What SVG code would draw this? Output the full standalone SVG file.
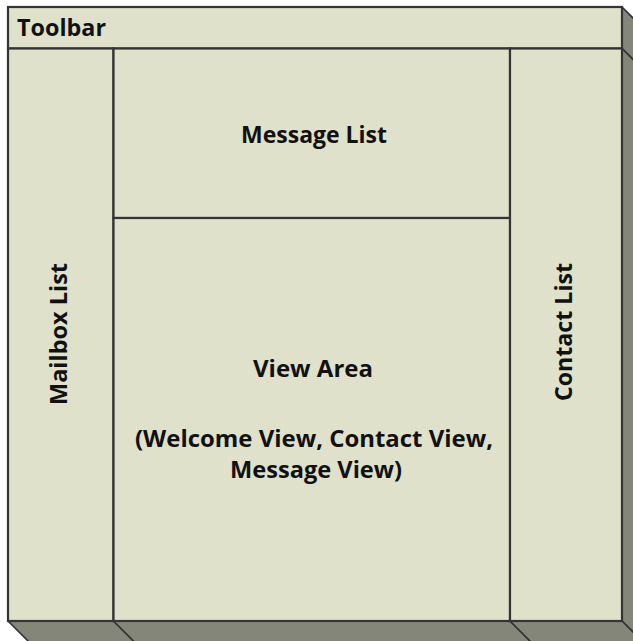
<svg xmlns="http://www.w3.org/2000/svg" width="633" height="641" viewBox="0 0 633 641">
  <style>
    .face { fill: #DFE1CB; stroke: #343434; stroke-width: 2.2; }
    .depth { fill: #84867A; stroke: #343434; stroke-width: 1.6; stroke-linejoin: round; }
    .lbl { font-family: "Open Sans", "Noto Sans", sans-serif; font-weight: bold; font-size: 24px; fill: #111; }
    .mid { text-anchor: middle; }
  </style>
  <rect x="0" y="0" width="633" height="641" fill="#FFFFFF"/>
  <g id="toolbar">
    <polygon class="depth" points="622,7 645,30 645,71.5 622,48.5"/>
    <rect class="face" x="8" y="7" width="614" height="41.5"/>
    <text class="lbl" x="17" y="36" textLength="89" lengthAdjust="spacingAndGlyphs">Toolbar</text>
  </g>
  <g id="mailbox-list">
    <polygon class="depth" points="8,621 113.5,621 136.5,644 31,644"/>
    <rect class="face" x="8" y="48.5" width="105.5" height="572.5"/>
    <text class="lbl mid" transform="translate(67,334) rotate(-90)" x="0" y="0" textLength="142" lengthAdjust="spacingAndGlyphs">Mailbox List</text>
  </g>
  <g id="message-list">
    <rect class="face" x="113.5" y="48.5" width="396.5" height="169.5"/>
    <text class="lbl mid" x="314" y="143" textLength="146" lengthAdjust="spacingAndGlyphs">Message List</text>
  </g>
  <g id="view-area">
    <polygon class="depth" points="113.5,621 510,621 533,644 136.5,644"/>
    <rect class="face" x="113.5" y="218" width="396.5" height="403"/>
    <text class="lbl mid" x="313" y="377" textLength="120" lengthAdjust="spacingAndGlyphs">View Area</text>
    <text class="lbl mid" x="314" y="447" textLength="358" lengthAdjust="spacingAndGlyphs">(Welcome View, Contact View,</text>
    <text class="lbl mid" x="316" y="478" textLength="172" lengthAdjust="spacingAndGlyphs">Message View)</text>
  </g>
  <g id="contact-list">
    <polygon class="depth" points="622,48.5 645,71.5 645,644 622,621"/>
    <polygon class="depth" points="510,621 622,621 645,644 533,644"/>
    <rect class="face" x="510" y="48.5" width="112" height="572.5"/>
    <text class="lbl mid" transform="translate(572,332) rotate(-90)" x="0" y="0" textLength="138" lengthAdjust="spacingAndGlyphs">Contact List</text>
  </g>
  <g id="connectors"></g>
</svg>
